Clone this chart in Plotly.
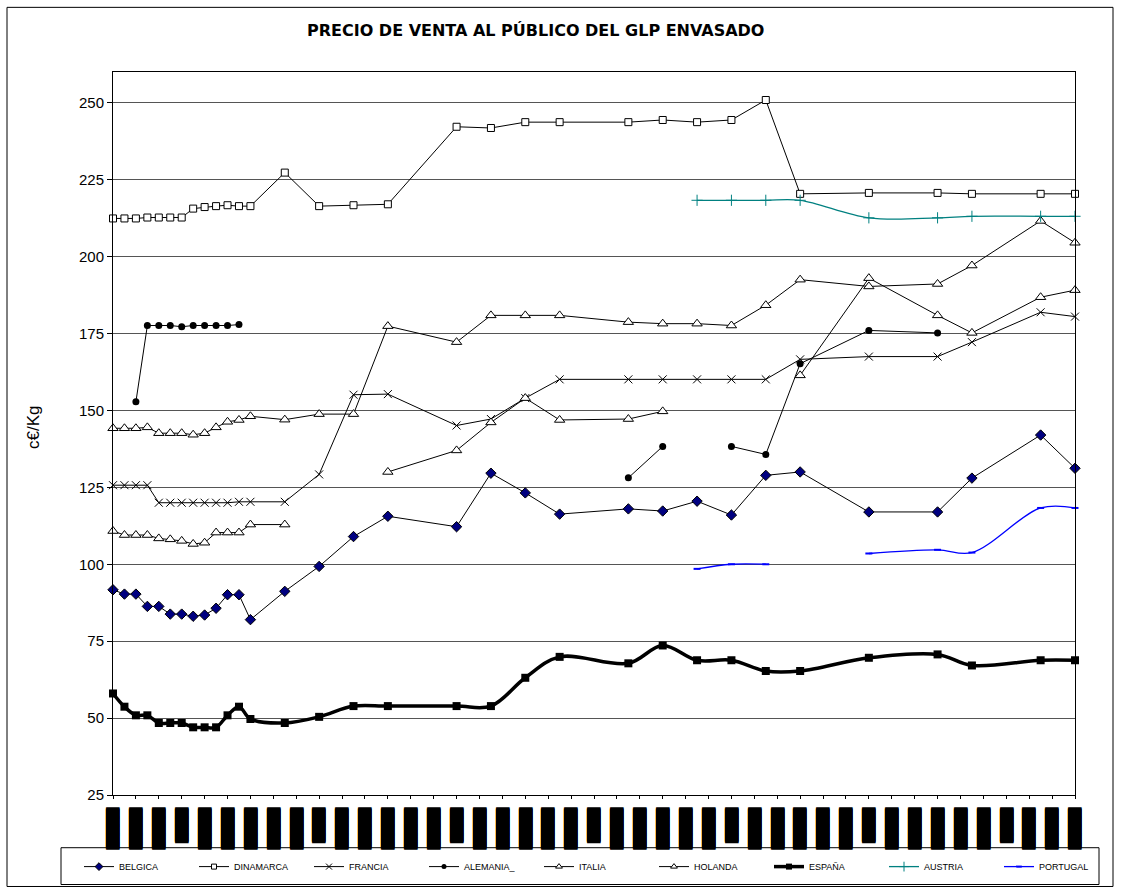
import plotly.graph_objects as go

# ---------------- DATA ----------------
# category positions (index of the period on the category axis, 85 periods)
X_MAIN = [0, 1, 2, 3, 4, 5, 6, 7, 8, 9, 10, 11, 12, 15, 18, 21, 24, 30, 33, 36,
          39, 45, 48, 51, 54, 57, 60, 66, 72, 75, 81, 84]

BELGICA = [91.7, 90.3, 90.3, 86.3, 86.3, 83.8, 83.8, 83.1, 83.5, 85.7, 90.1, 90.1, 82.0,
           91.2, 99.3, 109.0, 115.6, 112.2, 129.6, 123.2, 116.3, 118.0, 117.3, 120.5,
           116.0, 128.9, 130.0, 117.0, 117.0, 128.0, 142.0, 131.2]
DINAMARCA = [212.4, 212.4, 212.4, 212.7, 212.7, 212.7, 212.7, 215.6, 216.1, 216.4, 216.7, 216.4, 216.4,
             227.3, 216.4, 216.7, 217.0, 242.2, 241.8, 243.7, 243.7, 243.7, 244.4, 243.7,
             244.4, 250.9, 220.4, 220.7, 220.7, 220.4, 220.4, 220.4]
FRANCIA = [125.7, 125.7, 125.7, 125.7, 120.0, 120.0, 120.0, 120.0, 120.0, 120.0, 120.0, 120.3, 120.3,
           120.3, 129.2, 155.1, 155.3, 145.1, 147.2, 154.0, 160.1, 160.1, 160.1, 160.1,
           160.1, 160.1, 166.6, 167.5, 167.5, 172.2, 181.9, 180.5]
ITALIA = [144.2, 144.2, 144.2, 144.5, 142.6, 142.6, 142.6, 142.1, 142.6, 144.5, 146.3, 146.9, 148.1,
          147.0, 148.8, 148.8, 177.4, 172.2, 180.9, 180.9, 180.9, 178.7, 178.2, 178.2,
          177.6, 184.2, 192.5, 190.3, 191.1, 197.1, 211.6, 204.5]
ESPANA = [58.0, 53.7, 50.9, 50.9, 48.4, 48.4, 48.4, 47.0, 47.0, 47.0, 50.9, 53.7, 49.7,
          48.4, 50.4, 53.9, 53.9, 53.9, 53.9, 63.1, 69.9, 67.8, 73.6, 68.8,
          68.8, 65.3, 65.3, 69.6, 70.7, 67.1, 68.8, 68.8]

# series with breaks (None = no data, line interrupted)
ALEMANIA_X = [2, 3, 4, 5, 6, 7, 8, 9, 10, 11, None, 45, 48, None, 54, 57, 60, 66, 72]
ALEMANIA = [152.8, 177.6, 177.6, 177.6, 177.2, 177.6, 177.6, 177.6, 177.6, 177.9, None,
            128.1, 138.3, None, 138.3, 135.7, 165.2, 176.0, 175.2]
HOLANDA_X = [0, 1, 2, 3, 4, 5, 6, 7, 8, 9, 10, 11, 12, 15, None, 24, 30, 33, 36, 39, 45, 48,
             None, 60, 66, 72, 75, 81, 84]
HOLANDA = [110.8, 109.5, 109.5, 109.5, 108.4, 108.1, 107.6, 106.6, 107.0, 110.3, 110.3, 110.3,
           112.9, 112.9, None, 130.0, 137.0, 146.1, 154.0, 146.9, 147.2, 149.7,
           None, 161.4, 193.0, 180.9, 175.2, 186.8, 189.1]
AUSTRIA_X = [51, 54, 57, 60, 66, 72, 75, 81, 84]
AUSTRIA = [218.3, 218.3, 218.3, 218.3, 212.6, 212.6, 213.1, 213.1, 213.1]
PORTUGAL_X = [51, 54, 57, None, 66, 72, 75, 81, 84]
PORTUGAL = [98.5, 100.0, 100.0, None, 103.5, 104.7, 103.8, 118.3, 118.3]

# category tick labels (rendered as solid blocks in the original)
TICK_POS = [0, 2, 4, 6, 8, 10, 12, 14, 16, 18, 20, 22, 24, 26, 28, 30, 32, 34, 36, 38, 40, 42,
            44, 46, 48, 50, 52, 54, 56, 58, 60, 62, 64, 66, 68, 70, 72, 74, 76, 78, 80, 82, 84]
L = "████▋"
S = "███▉"
TICK_LABELS = [L, L, L, S, L, L, L, L, L, S, L, L, L, L, L, S, L, L, L, L, L, S,
               L, L, L, L, L, S, L, L, L, L, L, S, L, L, L, L, L, S, L, L, L]

Y_TICKS = [25, 50, 75, 100, 125, 150, 175, 200, 225, 250]

# ---------------- FIGURE ----------------
W, H = 1122, 893
PL, PR, PT, PB = 113, 1075, 72, 799   # plot area in page pixels


def px(x):
    return (x - PL) / (PR - PL)


def py(y):
    return (PB - y) / (PB - PT)


SERIES = [
    # name, x, y, line, marker (chart), marker (legend)
    ("BELGICA", X_MAIN, BELGICA, dict(color="black", width=1),
     dict(symbol="diamond", size=8, color="#000080", line=dict(color="black", width=1)),
     dict(symbol="diamond", size=6, color="#000080", line=dict(color="black", width=1))),
    ("DINAMARCA", X_MAIN, DINAMARCA, dict(color="black", width=1),
     dict(symbol="square", size=7, color="white", line=dict(color="black", width=1)),
     dict(symbol="square", size=5, color="white", line=dict(color="black", width=1))),
    ("FRANCIA", X_MAIN, FRANCIA, dict(color="black", width=1),
     dict(symbol="x-thin", size=8, color="black", line=dict(color="black", width=1)),
     dict(symbol="x-thin", size=6, color="black", line=dict(color="black", width=1))),
    ("ALEMANIA_", ALEMANIA_X, ALEMANIA, dict(color="black", width=1),
     dict(symbol="circle", size=7, color="black"),
     dict(symbol="circle", size=5, color="black")),
    ("ITALIA", X_MAIN, ITALIA, dict(color="black", width=1),
     dict(symbol="triangle-up", size=9, color="white", line=dict(color="black", width=1)),
     dict(symbol="triangle-up", size=6, color="white", line=dict(color="black", width=1))),
    ("HOLANDA", HOLANDA_X, HOLANDA, dict(color="black", width=1),
     dict(symbol="triangle-up", size=9, color="white", line=dict(color="black", width=1)),
     dict(symbol="triangle-up", size=6, color="white", line=dict(color="black", width=1))),
    ("ESPAÑA", X_MAIN, ESPANA, dict(color="black", width=3.5, shape="spline", smoothing=1),
     dict(symbol="square", size=8, color="black"),
     dict(symbol="square", size=6, color="black")),
    ("AUSTRIA", AUSTRIA_X, AUSTRIA, dict(color="#008080", width=1.3, shape="spline", smoothing=1),
     dict(symbol="cross-thin", size=8, color="#008080", line=dict(color="#008080", width=1)),
     dict(symbol="cross-thin", size=7, color="#008080", line=dict(color="#008080", width=1))),
    ("PORTUGAL", PORTUGAL_X, PORTUGAL, dict(color="#0000FF", width=1.3, shape="spline", smoothing=1),
     dict(symbol="line-ew", size=5, color="#0000FF", line=dict(color="#0000FF", width=2)),
     dict(symbol="line-ew", size=4, color="#0000FF", line=dict(color="#0000FF", width=2))),
]

fig = go.Figure()
for name, xs, ys, ln, mk, lmk in SERIES:
    fig.add_trace(go.Scatter(x=xs, y=ys, name=name, mode="lines+markers", cliponaxis=False,
                             connectgaps=False, line=ln, marker=mk, showlegend=False,
                             legendgroup=name))
for name, xs, ys, ln, mk, lmk in SERIES:
    fig.add_trace(go.Scatter(x=[None], y=[None], name=name, mode="lines+markers",
                             line=ln, marker=lmk, showlegend=True, legendgroup=name))

fig.update_layout(
    width=W, height=H,
    margin=dict(l=PL, r=W - PR, t=PT, b=H - PB, pad=0),
    paper_bgcolor="white", plot_bgcolor="white",
    font=dict(family="Liberation Sans, Arial, sans-serif", color="black"),
    showlegend=True,
    legend=dict(orientation="h", x=px(79), xanchor="left", y=py(871), yanchor="middle",
                font=dict(size=9, family="Liberation Sans, Arial, sans-serif", color="black"),
                entrywidth=70, entrywidthmode="pixels", borderwidth=0,
                bgcolor="rgba(0,0,0,0)", tracegroupgap=0),
    xaxis=dict(range=[0, 84], tickmode="array", tickvals=TICK_POS, ticktext=TICK_LABELS,
               tickangle=90,
               tickfont=dict(family="DejaVu Sans", size=11.4, color="black",
                             shadow="1px 0px 0px #000, -1px 0px 0px #000"),
               ticks="outside", ticklen=3, tickcolor="black", ticklabelstandoff=7,
               showline=True, linecolor="black", linewidth=1, mirror=True,
               showgrid=False, zeroline=False),
    yaxis=dict(range=[25, 260], tickmode="array", tickvals=Y_TICKS,
               tickfont=dict(size=15, color="black"),
               ticks="outside", ticklen=5, tickcolor="black",
               showline=True, linecolor="black", linewidth=1, mirror=True,
               showgrid=True, gridcolor="#555555", gridwidth=1, zeroline=False),
    annotations=[
        dict(text="<b>PRECIO DE VENTA AL PÚBLICO DEL GLP ENVASADO</b>", xref="paper", yref="paper",
             x=px(535), y=py(30), xanchor="center", yanchor="middle", showarrow=False,
             font=dict(size=16, family="DejaVu Sans", color="black")),
        dict(text="c€/Kg", xref="paper", yref="paper", x=px(33), y=py(430),
             xanchor="center", yanchor="middle", textangle=-90, showarrow=False,
             font=dict(size=17, family="Liberation Sans, Arial, sans-serif", color="black")),
    ],
    shapes=[
        dict(type="rect", xref="paper", yref="paper", x0=px(7), x1=px(1113), y0=py(891), y1=py(7),
             line=dict(color="black", width=1), fillcolor="rgba(0,0,0,0)", layer="below"),
        dict(type="rect", xref="paper", yref="paper", x0=px(61), x1=px(1099), y0=py(889), y1=py(852),
             line=dict(color="black", width=1), fillcolor="rgba(0,0,0,0)", layer="below"),
    ],
)

fig.write_html("out.html", config={"displayModeBar": False},
               post_script="document.body.style.margin='0';document.body.style.overflow='hidden';")
